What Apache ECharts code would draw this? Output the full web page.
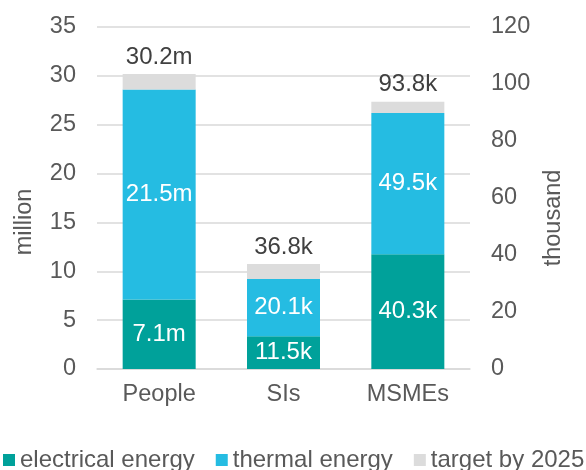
<!DOCTYPE html>
<html>
<head>
<meta charset="utf-8">
<script src="https://cdn.jsdelivr.net/npm/echarts@6/dist/echarts.min.js"></script>
<style>
  html, body { margin: 0; padding: 0; background: #fff; }
  #chart { width: 586px; height: 470px; }
</style>
</head>
<body>
<div id="chart"></div>
<script>
// Categories and their units / axes
const categories = ['People', 'SIs', 'MSMEs'];
const units = ['m', 'k', 'k'];
const axisIndexOf = [0, 1, 1]; // 0 = million (left), 1 = thousand (right)

// Values
const electrical = [7.1, 11.5, 40.3];
const thermal = [21.5, 20.1, 49.5];
const target = [30.2, 36.8, 93.8];

// Axis ticks
const leftAxis = { min: 0, max: 35, interval: 5, name: 'million' };
const rightAxis = { min: 0, max: 120, interval: 20, name: 'thousand' };

const COLORS = { electrical: '#00A19A', thermal: '#25BCE2', target: '#DCDCDC' };
const FONT = 'Liberation Sans, Arial, sans-serif';
const TEXT = '#595959';

function pick(values, axis) {
  return values.map((v, i) => (axisIndexOf[i] === axis ? v : '-'));
}
const remainder = target.map((t, i) => +(t - electrical[i] - thermal[i]).toFixed(1));

function seriesFor(axis) {
  const common = {
    type: 'bar',
    stack: 's' + axis,
    yAxisIndex: axis,
    barWidth: 73,
    barGap: '-100%',
    emphasis: { disabled: true }
  };
  const inside = {
    show: true,
    position: 'inside',
    color: '#fff',
    fontFamily: FONT,
    fontSize: 24,
    formatter: p => p.value + units[p.dataIndex]
  };
  return [
    Object.assign({}, common, {
      name: 'electrical energy',
      data: pick(electrical, axis),
      itemStyle: { color: COLORS.electrical },
      label: inside
    }),
    Object.assign({}, common, {
      name: 'thermal energy',
      data: pick(thermal, axis),
      itemStyle: { color: COLORS.thermal },
      label: inside
    }),
    Object.assign({}, common, {
      name: 'target by 2025',
      data: pick(remainder, axis),
      itemStyle: { color: COLORS.target },
      label: {
        show: true,
        position: 'top',
        distance: 5,
        color: '#404040',
        fontFamily: FONT,
        fontSize: 24,
        formatter: p => target[p.dataIndex] + units[p.dataIndex]
      }
    })
  ];
}

function valueAxis(cfg, position, gap, shift) {
  return {
    type: 'value',
    position: position,
    min: cfg.min,
    max: cfg.max,
    interval: cfg.interval,
    name: cfg.name,
    nameLocation: 'middle',
    nameRotate: 90,
    nameGap: gap,
    nameTextStyle: {
      color: TEXT,
      fontFamily: FONT,
      fontSize: 23.5,
      padding: [0, shift, 0, 0]
    },
    axisLine: { show: false },
    axisTick: { show: false },
    axisLabel: { color: TEXT, fontFamily: FONT, fontSize: 23.5, margin: 21 },
    splitLine: { show: position === 'left', lineStyle: { color: '#D9D9D9', width: 1.5 } }
  };
}

const chart = echarts.init(document.getElementById('chart'), null, { renderer: 'canvas' });
chart.setOption({
  animation: false,
  backgroundColor: '#fff',
  grid: { left: 97, right: 116, top: 27, bottom: 101, outerBoundsMode: 'none' },
  legend: {
    left: 3,
    top: 448,
    padding: 0,
    icon: 'rect',
    itemWidth: 12,
    itemHeight: 12,
    itemGap: 21,
    selectedMode: false,
    textStyle: { color: TEXT, fontFamily: FONT, fontSize: 24 },
    data: ['electrical energy', 'thermal energy', 'target by 2025']
  },
  xAxis: {
    type: 'category',
    data: categories,
    axisTick: { show: false },
    axisLine: { lineStyle: { color: '#D9D9D9', width: 1.5 } },
    axisLabel: { color: TEXT, fontFamily: FONT, fontSize: 23.5, margin: 14 }
  },
  yAxis: [
    valueAxis(leftAxis, 'left', 60, 48),
    valueAxis(rightAxis, 'right', 62, 40)
  ],
  series: seriesFor(0).concat(seriesFor(1))
});
</script>
</body>
</html>
